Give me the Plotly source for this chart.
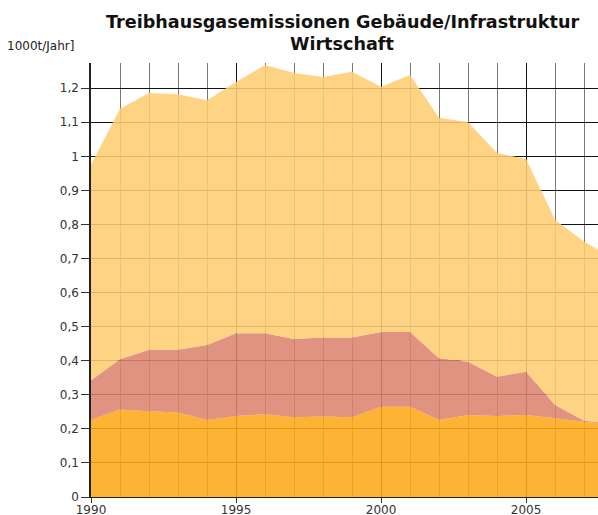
import plotly.graph_objects as go

years = list(range(1990, 2009))
# stacked components (1000 t / Jahr)
bottom = [0.226, 0.257, 0.252, 0.248, 0.226, 0.238, 0.243, 0.234, 0.236, 0.234,
          0.265, 0.265, 0.226, 0.241, 0.238, 0.241, 0.231, 0.221, 0.214]
middle = [0.117, 0.147, 0.180, 0.184, 0.220, 0.243, 0.238, 0.230, 0.232, 0.234,
          0.219, 0.219, 0.181, 0.156, 0.115, 0.127, 0.039, 0.003, 0.002]
top = [0.632, 0.736, 0.754, 0.750, 0.719, 0.737, 0.787, 0.781, 0.765, 0.780,
       0.720, 0.755, 0.706, 0.703, 0.657, 0.624, 0.543, 0.526, 0.484]

x_ticks = [1990, 1995, 2000, 2005]
title_lines = ["Treibhausgasemissionen Gebäude/Infrastruktur", "Wirtschaft"]
y_title = "1000t/Jahr]"

colors = ["rgba(254,168,24,0.88)", "rgba(220,132,111,0.88)", "rgba(254,205,115,0.88)"]

fig = go.Figure()
for vals, col in zip([bottom, middle, top], colors):
    fig.add_trace(go.Scatter(x=years, y=vals, stackgroup="one", mode="none",
                             fillcolor=col, line=dict(width=0), hoverinfo="skip"))

font_family = "DejaVu Sans"
L, T, W, H = 91, 63, 507, 434


def px(xp, yp):
    return (xp - L) / W, (T + H - yp) / H


annots = []
for txt, yc in zip(title_lines, [22, 44]):
    ax, ay = px(342, yc)
    annots.append(dict(text="<b>" + txt + "</b>", x=ax, y=ay, xref="paper", yref="paper",
                       xanchor="center", yanchor="middle", showarrow=False,
                       font=dict(family=font_family, size=17.6, color="#111")))
ax, ay = px(5, 46)
annots.append(dict(text=y_title, x=ax, y=ay, xref="paper", yref="paper",
                   xanchor="left", yanchor="middle", showarrow=False,
                   font=dict(size=12, color="#222")))

fig.update_layout(
    width=598, height=515,
    margin=dict(l=L, r=0, t=T, b=515 - T - H, autoexpand=False),
    paper_bgcolor="white", plot_bgcolor="white",
    showlegend=False,
    separators=",.",
    font=dict(family=font_family, size=12, color="#333"),
    xaxis=dict(range=[1990, 2007.48], tickvals=x_ticks, ticks="outside", ticklen=5,
               tickcolor="#333", showline=True, linecolor="#222", linewidth=1,
               showgrid=True, gridcolor="#111", gridwidth=1, automargin=False,
               ticklabelstandoff=-3,
               minor=dict(dtick=1, showgrid=True, gridcolor="#777", gridwidth=1, ticks=""),
               zeroline=False, tickfont=dict(size=12, color="#333")),
    yaxis=dict(range=[0, 1.274], dtick=0.1, tick0=0, ticks="outside", ticklen=8,
               tickcolor="#333", showline=True, linecolor="#222", linewidth=1.5,
               showgrid=True, gridcolor="#111", gridwidth=1, zeroline=False, automargin=False,
               tickfont=dict(size=12, color="#333")),
    annotations=annots,
)

fig.write_html("out.html", config={"responsive": False, "displayModeBar": False},
               post_script="document.body.style.margin='0';document.body.style.overflow='hidden';")
